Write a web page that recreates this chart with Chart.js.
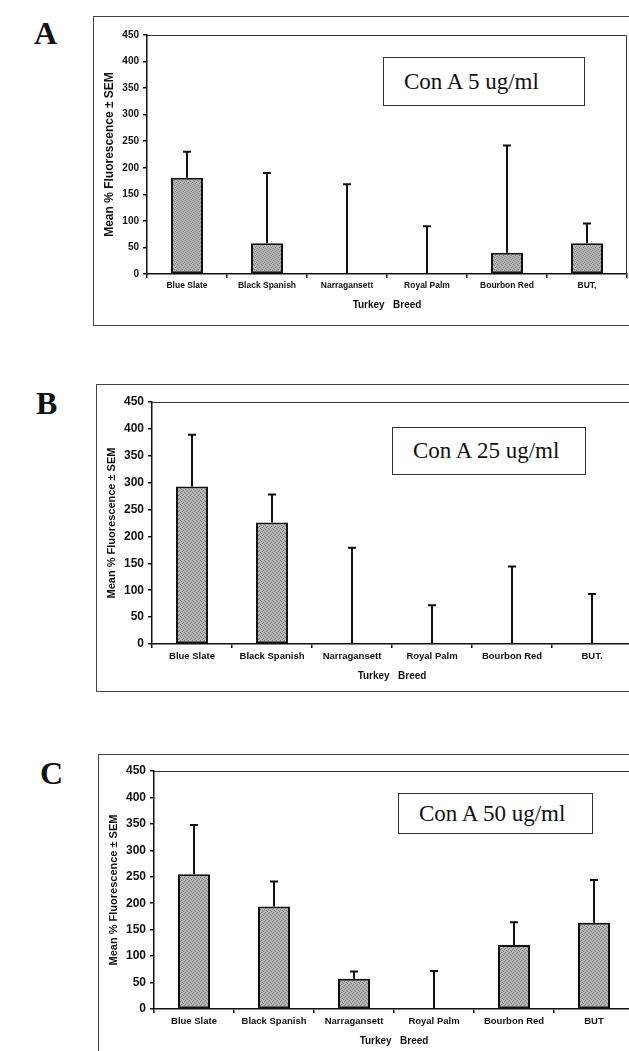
<!DOCTYPE html>
<html lang="en">
<head>
<meta charset="UTF-8">
<title>Con A response by turkey breed</title>
<script src="https://cdn.jsdelivr.net/npm/chart.js"></script>
<style>
    html, body { margin: 0; padding: 0; background: #fff; overflow: hidden; }
    body { width: 629px; height: 1051px; position: relative; }
    .letter {
        position: absolute;
        font-family: 'Liberation Serif', 'Times New Roman', serif;
        font-weight: bold;
        font-size: 32px;
        line-height: 1;
        color: #111;
    }
    .frame { position: absolute; border: 1px solid #444; width: 620px; box-sizing: border-box; }
    .plot { position: absolute; }
    .conc {
        position: absolute;
        box-sizing: border-box;
        border: 1px solid #333;
        background: #fff;
        font-family: 'Liberation Serif', 'Times New Roman', serif;
        font-size: 23px;
        color: #111;
        padding-left: 20px;
        display: flex;
        align-items: center;
    }
</style>
</head>
<body>
<script>
// data
const breedsA = ['Blue Slate', 'Black Spanish', 'Narragansett', 'Royal Palm', 'Bourbon Red', 'BUT,'];
const breedsB = ['Blue Slate', 'Black Spanish', 'Narragansett', 'Royal Palm', 'Bourbon Red', 'BUT.'];
const breedsC = ['Blue Slate', 'Black Spanish', 'Narragansett', 'Royal Palm', 'Bourbon Red', 'BUT'];

const meanA = [181, 58, 0, 0, 40, 58];
const semA  = [49, 132, 169, 90, 202, 37];
const meanB = [293, 226, 0, 0, 2, 2];
const semB  = [96, 52, 179, 72, 142, 91];
const meanC = [255, 194, 57, 0, 121, 163];
const semC  = [93, 47, 14, 72, 43, 81];

const doses = ['Con A 5 ug/ml', 'Con A 25 ug/ml', 'Con A 50 ug/ml'];
const panelLetters = ['A', 'B', 'C'];
const yMin = 0, yMax = 450, yStep = 50;
const yTitle = 'Mean % Fluorescence \u00b1 SEM';
const xTitle = 'Turkey   Breed';

// page geometry of each panel (pixels)
const panels = [
    { labels: breedsA, mean: meanA, sem: semA,
      letter: { left: 34, top: 17 },
      frame: { left: 93, top: 16, height: 310 },
      plot: { left: 147, top: 35, right: 627, bottom: 274 },
      box: { left: 383, top: 57, width: 202, height: 49 },
      yTitleX: 110, xTitleY: 305, tickSize: 10, catSize: 8.5, yTitleSize: 12 },
    { labels: breedsB, mean: meanB, sem: semB,
      letter: { left: 36, top: 387 },
      frame: { left: 96, top: 384, height: 308 },
      plot: { left: 152, top: 402, right: 632, bottom: 644 },
      box: { left: 392, top: 427, width: 194, height: 48 },
      yTitleX: 112, xTitleY: 676, tickSize: 12, catSize: 9.5, yTitleSize: 11 },
    { labels: breedsC, mean: meanC, sem: semC,
      letter: { left: 40, top: 757 },
      frame: { left: 98, top: 754, height: 320 },
      plot: { left: 154, top: 771, right: 634, bottom: 1009 },
      box: { left: 398, top: 793, width: 195, height: 41 },
      yTitleX: 114, xTitleY: 1041, tickSize: 12, catSize: 9.5, yTitleSize: 11 }
];

Chart.defaults.font.family = "'Liberation Sans', Arial, sans-serif";
Chart.defaults.color = '#111';

// speckled grey fill like the printed bars
function stipple() {
    const c = document.createElement('canvas');
    c.width = 4;
    c.height = 4;
    const g = c.getContext('2d');
    g.fillStyle = '#b6b6b6';
    g.fillRect(0, 0, 4, 4);
    g.fillStyle = '#7c7c7c';
    [[0, 0], [2, 1], [1, 2], [3, 3]].forEach(([x, y]) => g.fillRect(x, y, 1, 1));
    return g.createPattern(c, 'repeat');
}

// vertical SEM whiskers on top of each bar
const errorBars = {
    id: 'errorBars',
    afterDatasetsDraw(chart, args, opts) {
        const ctx = chart.ctx;
        const y = chart.scales.y;
        const meta = chart.getDatasetMeta(0);
        const values = chart.data.datasets[0].data;
        ctx.save();
        ctx.strokeStyle = '#111';
        ctx.lineWidth = 2;
        meta.data.forEach((bar, i) => {
            const base = y.getPixelForValue(values[i]);
            const top = y.getPixelForValue(values[i] + opts.sem[i]);
            ctx.beginPath();
            ctx.moveTo(bar.x, base);
            ctx.lineTo(bar.x, top);
            ctx.moveTo(bar.x - 4, top);
            ctx.lineTo(bar.x + 4, top);
            ctx.stroke();
        });
        ctx.restore();
    }
};

// thin box line along the top and right of the plot area
const plotBox = {
    id: 'plotBox',
    beforeDatasetsDraw(chart) {
        const { ctx, chartArea } = chart;
        ctx.save();
        ctx.strokeStyle = '#333';
        ctx.lineWidth = 1;
        ctx.beginPath();
        ctx.moveTo(chartArea.left, chartArea.top + 0.5);
        ctx.lineTo(chartArea.right - 0.5, chartArea.top + 0.5);
        ctx.lineTo(chartArea.right - 0.5, chartArea.bottom);
        ctx.stroke();
        ctx.restore();
    }
};

panels.forEach((p, n) => {
    const letter = document.createElement('div');
    letter.className = 'letter';
    letter.style.left = p.letter.left + 'px';
    letter.style.top = p.letter.top + 'px';
    letter.textContent = panelLetters[n];
    document.body.appendChild(letter);

    const frame = document.createElement('div');
    frame.className = 'frame';
    frame.style.left = p.frame.left + 'px';
    frame.style.top = p.frame.top + 'px';
    frame.style.height = p.frame.height + 'px';
    document.body.appendChild(frame);

    const canvasLeft = p.frame.left + 1;
    const canvasTop = p.frame.top + 1;
    const canvasRight = 645;
    const canvasBottom = p.frame.top + p.frame.height - 1;

    const canvas = document.createElement('canvas');
    canvas.className = 'plot';
    canvas.width = canvasRight - canvasLeft;
    canvas.height = canvasBottom - canvasTop;
    canvas.style.left = canvasLeft + 'px';
    canvas.style.top = canvasTop + 'px';
    document.body.appendChild(canvas);

    const box = document.createElement('div');
    box.className = 'conc';
    box.style.left = p.box.left + 'px';
    box.style.top = p.box.top + 'px';
    box.style.width = p.box.width + 'px';
    box.style.height = p.box.height + 'px';
    box.textContent = doses[n];
    document.body.appendChild(box);

    const xTitleLine = 10 * 1.2;
    const yTitleLine = p.yTitleSize * 1.2;

    new Chart(canvas.getContext('2d'), {
        type: 'bar',
        data: {
            labels: p.labels,
            datasets: [{
                data: p.mean,
                backgroundColor: stipple(),
                borderColor: '#111',
                borderWidth: 2,
                borderSkipped: false,
                barPercentage: 0.4,
                categoryPercentage: 1
            }]
        },
        options: {
            responsive: false,
            animation: false,
            layout: {
                padding: { left: 0, top: p.plot.top - canvasTop, right: canvasRight - p.plot.right, bottom: 0 }
            },
            plugins: {
                legend: { display: false },
                tooltip: { enabled: false },
                errorBars: { sem: p.sem }
            },
            scales: {
                x: {
                    offset: true,
                    grid: { offset: true, drawOnChartArea: false, tickLength: 4, color: '#111', lineWidth: 1.5 },
                    border: { color: '#111', width: 1.5 },
                    ticks: { font: { size: p.catSize, weight: 'bold' }, padding: 3, maxRotation: 0, autoSkip: false },
                    title: {
                        display: true,
                        text: xTitle,
                        font: { size: 10, weight: 'bold' },
                        padding: { top: 0, bottom: canvasBottom - p.xTitleY - xTitleLine / 2 }
                    },
                    afterFit: (scale) => { scale.height = canvasBottom - p.plot.bottom; }
                },
                y: {
                    min: yMin,
                    max: yMax,
                    grid: { drawOnChartArea: false, tickLength: 4, color: '#111', lineWidth: 1.5 },
                    border: { color: '#111', width: 1.5 },
                    ticks: { stepSize: yStep, font: { size: p.tickSize, weight: 'bold' }, padding: 4 },
                    title: {
                        display: true,
                        text: yTitle,
                        font: { size: p.yTitleSize, weight: 'bold' },
                        padding: { top: p.yTitleX - canvasLeft - yTitleLine / 2, bottom: 0 }
                    },
                    afterFit: (scale) => { scale.width = p.plot.left - canvasLeft; }
                }
            }
        },
        plugins: [errorBars, plotBox]
    });
});
</script>
</body>
</html>
